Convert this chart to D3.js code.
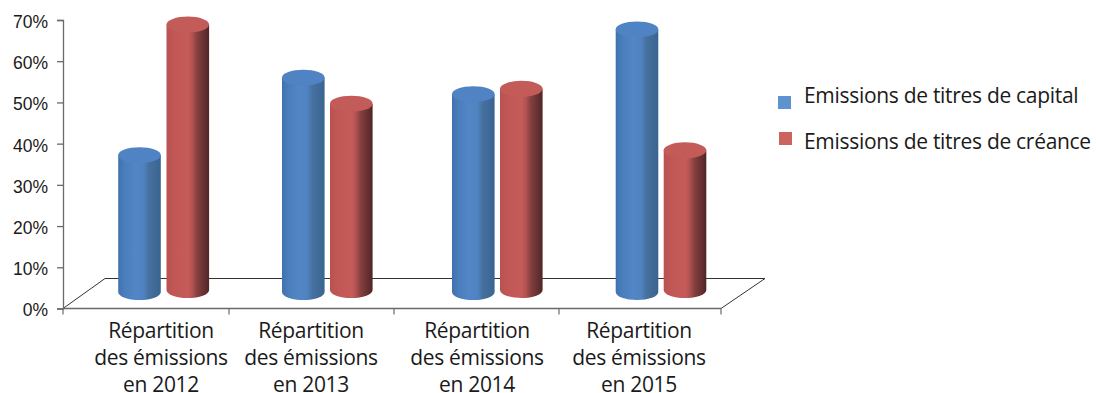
<!DOCTYPE html>
<html><head><meta charset="utf-8">
<script src="https://cdn.jsdelivr.net/npm/d3@7"></script>
<style>html,body{margin:0;background:#fff}svg{display:block}</style></head>
<body><svg id="c" width="1096" height="393"></svg>
<script>
const categories = ["2012","2013","2014","2015"];
const capital = [33.2, 52, 48, 63.7];
const creance = [64.4, 45.2, 48.8, 33.9];
const tickLabels = [0,10,20,30,40,50,60,70];
const seriesNames = ["Emissions de titres de capital","Emissions de titres de créance"];

const svg = d3.select("#c");
const W = 658, depthX = 42, depthY = 30;
const x0 = 63;
const y = d3.scaleLinear().domain([0,70]).range([308.5,20]);
const labelFont = "'Open Sans','Noto Sans',sans-serif";

// Shaded cylinder fills: soft left edge, flat middle, darkening towards the right
const defs = svg.append("defs");
function grad(id, stops){
  const g = defs.append("linearGradient").attr("id",id);
  stops.forEach(([o,c])=>g.append("stop").attr("offset",o).attr("stop-color",c));
}
grad("blueBody",[[0,"#3f72ad"],[.15,"#4a7dbb"],[.4,"#5286c6"],[.6,"#4f82bf"],[.72,"#46719f"],[1,"#3a6490"]]);
grad("redBody",[[0,"#b85250"],[.2,"#c25856"],[.5,"#c65c5a"],[.6,"#b45352"],[.72,"#85403f"],[1,"#512526"]]);

// Floor of the plot
svg.append("path")
  .attr("d",d3.line()([[x0,y(0)],[x0+depthX,y(0)-depthY],[x0+W+depthX+2,y(0)-depthY],[x0+W,y(0)]]))
  .attr("fill","none").attr("stroke","#333").attr("stroke-width",1);

// Value axis
const yAxis = d3.axisLeft(y).tickValues(tickLabels).tickFormat(d=>d+"%").tickSize(6).tickPadding(9);
const ya = svg.append("g").attr("transform",`translate(${x0},0)`).call(yAxis);
ya.selectAll("path,line").attr("stroke","#6a6a6a").attr("stroke-width",1.3);
ya.selectAll("text").attr("font-family","'Liberation Sans',Arial,sans-serif").attr("font-size",17.5)
  .attr("fill","#1a1a1a").attr("dy","0.42em");

// Category axis
const xa = svg.append("g").attr("transform",`translate(0,${y(0)})`);
xa.append("line").attr("x1",x0).attr("x2",x0+W).attr("stroke","#6a6a6a").attr("stroke-width",1.3);
const boundaries = [x0,229,394,559,x0+W];
xa.selectAll("line.t").data(boundaries).join("line").attr("class","t")
  .attr("x1",d=>d).attr("x2",d=>d).attr("y1",0).attr("y2",6).attr("stroke","#6a6a6a").attr("stroke-width",1.2);

const labelX = [161,311,477,639];
categories.forEach((c,i)=>{
  const t = svg.append("text").attr("font-family",labelFont).attr("font-size",21).attr("letter-spacing",-.3)
    .attr("fill","#1a1a1a").attr("text-anchor","middle");
  ["Répartition","des émissions","en "+c].forEach((s,j)=>
    t.append("tspan").attr("x",labelX[i]).attr("y",337.5+j*27).text(s));
});

// Cylinders
const rx = 21.3, ry = 8;
const blueX = [139.5,303.3,473.3,637], redX = [187.8,351.3,521.3,685];
function cyl(cx,v,lift,body,top){
  const ty = y(v)-lift, by = y(0)-lift;
  const g = svg.append("g");
  g.append("path").attr("fill",`url(#${body})`)
    .attr("d",`M${cx-rx},${ty}V${by}A${rx},${ry} 0 0 0 ${cx+rx},${by}V${ty}Z`);
  g.append("ellipse").attr("cx",cx).attr("cy",ty).attr("rx",rx).attr("ry",ry).attr("fill",top);
}
capital.forEach((v,i)=>cyl(blueX[i],v,16.5,"blueBody","#4f83c3"));
creance.forEach((v,i)=>cyl(redX[i],v,18.5,"redBody","#c35b59"));

// Legend
const lg = svg.append("g");
[["#5f93cf",778,96],["#cc635f",779,132]].forEach(([c,a,b])=>
  lg.append("rect").attr("x",a).attr("y",b).attr("width",13).attr("height",13).attr("fill",c));
seriesNames.forEach((s,i)=>lg.append("text").attr("x",804).attr("y",[103,148.5][i])
  .attr("font-family",labelFont).attr("font-size",21).attr("letter-spacing",-.3).attr("fill","#1a1a1a").text(s));
</script></body></html>
